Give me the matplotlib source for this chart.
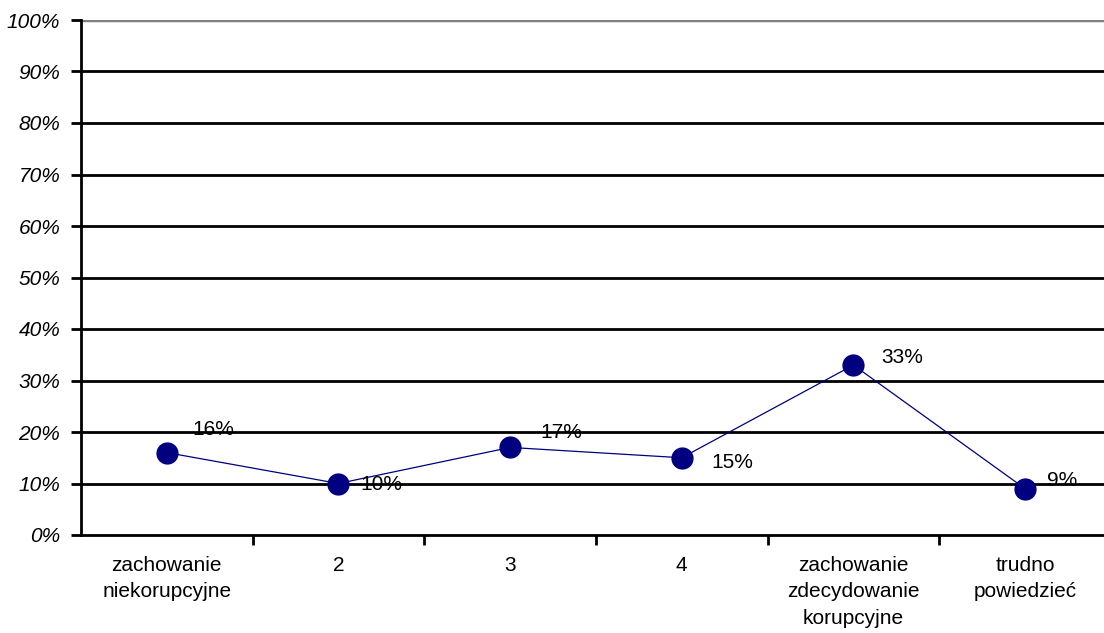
import numpy as np
import matplotlib.pyplot as plt

# chart data
categories = ['zachowanie\nniekorupcyjne', '2', '3', '4',
              'zachowanie\nzdecydowanie\nkorupcyjne', 'trudno\npowiedzieć']
values = [16, 10, 17, 15, 33, 9]
value_labels = ['16%', '10%', '17%', '15%', '33%', '9%']
y_ticks = [0, 10, 20, 30, 40, 50, 60, 70, 80, 90, 100]

# label offsets in pixels (dx, dy) relative to each point
label_offsets = [(26, 23), (22, -1), (30, 15), (30, -5), (28, 8), (22, 8)]

plt.rcParams['font.family'] = ['Liberation Sans', 'DejaVu Sans']
FS = 15

fig = plt.figure(figsize=(11.04, 6.33), dpi=100)
ax = fig.add_axes([81 / 1104, 1 - 535 / 633, (1104 - 81) / 1104, 515 / 633])

x = np.arange(len(categories))

# horizontal gridlines
for yv in y_ticks[1:-1]:
    ax.axhline(yv, color='black', lw=2, zorder=1)
ax.axhline(100, color='#808080', lw=2.5, zorder=1)

ax.plot(x, values, color='#000080', lw=0.9, marker='o', markersize=15,
        markerfacecolor='#000080', markeredgecolor='#000080', zorder=3,
        clip_on=False)

for xi, v, lab, (dx, dy) in zip(x, values, value_labels, label_offsets):
    ax.annotate(lab, (xi, v), xytext=(dx * 0.72, dy * 0.72),
                textcoords='offset points', fontsize=FS, ha='left',
                va='center', color='black', zorder=4)

ax.set_yticks(y_ticks)
ax.set_yticklabels([f'{t}%' for t in y_ticks], fontsize=FS, style='italic')
ax.tick_params(axis='y', direction='out', length=7, width=2, pad=8)

ax.set_xticks(x + 0.5, minor=False)
ax.set_xticklabels([])
ax.set_xticks(x, minor=True)
ax.set_xticklabels(categories, minor=True, fontsize=FS, linespacing=1.5)
ax.tick_params(axis='x', which='major', direction='out', length=7, width=2)
ax.tick_params(axis='x', which='minor', length=0, pad=15)
for lab in ax.get_xticklabels(minor=True):
    lab.set_verticalalignment('top')

ax.set_xlim(-0.5, 5.46)
ax.set_ylim(0, 100)

for side in ['top', 'right']:
    ax.spines[side].set_visible(False)
ax.spines['left'].set_linewidth(2)
ax.spines['bottom'].set_linewidth(2)

fig.savefig('out.png', dpi=100)
